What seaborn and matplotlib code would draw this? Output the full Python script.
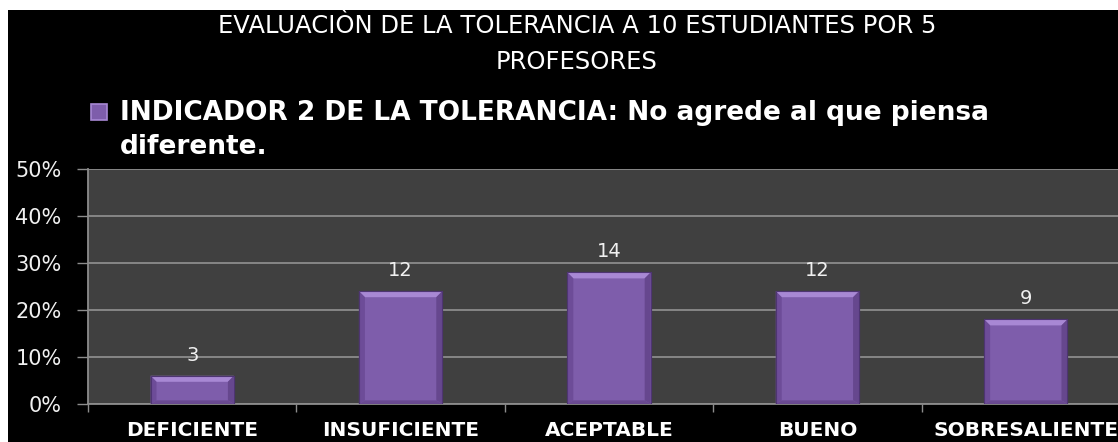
import matplotlib
matplotlib.use("Agg")
import matplotlib.pyplot as plt
from matplotlib.patches import Rectangle, Polygon
from matplotlib.ticker import FixedLocator, PercentFormatter
import numpy as np
import pandas as pd
import seaborn as sns

# Tolerance indicator 2: ratings given by 5 teachers to 10 students (50 ratings)
categories = ["DEFICIENTE", "INSUFICIENTE", "ACEPTABLE", "BUENO", "SOBRESALIENTE"]
counts = [3, 12, 14, 12, 9]
total_ratings = 50
y_ticks = [0.0, 0.1, 0.2, 0.3, 0.4, 0.5]

title_text = "EVALUACIÒN DE LA TOLERANCIA A 10 ESTUDIANTES POR 5\nPROFESORES"
series_label = "INDICADOR 2 DE LA TOLERANCIA: No agrede al que piensa\ndiferente."

df = pd.DataFrame({
    "categoria": categories,
    "cantidad": counts,
    "porcentaje": [c / total_ratings for c in counts],
})

sns.set_theme(style="dark")
plt.rcParams["font.family"] = ["DejaVu Sans"]

W, H, DPI = 1118, 442, 100
fig = plt.figure(figsize=(W / DPI, H / DPI), dpi=DPI, facecolor="white")

# black slide background, leaving a thin white margin at top and left
fig.patches.append(Rectangle((8 / W, 0), 1, 1 - 10 / H, transform=fig.transFigure,
                             facecolor="black", edgecolor="none", zorder=-10))

left_px, right_px, top_px, bottom_px = 88, 1130, 169, 404
ax = fig.add_axes([left_px / W, (H - bottom_px) / H,
                   (right_px - left_px) / W, (bottom_px - top_px) / H])
ax.set_facecolor("#404040")

BAR = "#7e5dab"
sns.barplot(data=df, x="categoria", y="porcentaje", color=BAR, width=0.40,
            saturation=1, ax=ax, zorder=3, edgecolor="#5b3f82", linewidth=0.8)

ax.set_xlim(-0.5, len(categories) - 0.5)
ax.set_ylim(0, 0.5)
ax.set_xlabel("")
ax.set_ylabel("")

# horizontal gridlines
ax.yaxis.set_major_locator(FixedLocator(y_ticks))
ax.yaxis.set_major_formatter(PercentFormatter(1.0, decimals=0))
ax.grid(axis="y", color="#8c8c8c", linewidth=1.3, zorder=1)
ax.grid(axis="x", visible=False)

for side in ("top", "right"):
    ax.spines[side].set_visible(False)
for side in ("left", "bottom"):
    ax.spines[side].set_visible(True)
    ax.spines[side].set_color("#8c8c8c")
    ax.spines[side].set_linewidth(1.3)

ax.tick_params(axis="y", colors="#8c8c8c", labelcolor="#f0f0f0", labelsize=15,
               length=8, width=1, direction="out", pad=11, left=True)
ax.tick_params(axis="x", which="major", length=0, labelcolor="white",
               labelsize=14.5, pad=12)
ax.set_xticks(range(len(categories)))
ax.set_xticklabels(categories, fontweight="bold")
ax.xaxis.set_minor_locator(FixedLocator(np.arange(-0.5, len(categories), 1.0)))
ax.tick_params(axis="x", which="minor", length=6, width=1, color="#8c8c8c",
               direction="out", bottom=True)

# bevelled look on each bar
fig.canvas.draw()
inv = ax.transData.inverted()
p0 = inv.transform((0, 0))
p1 = inv.transform((6, 6))
bx, by = p1[0] - p0[0], p1[1] - p0[1]
for patch in ax.patches:
    x0, w, h = patch.get_x(), patch.get_width(), patch.get_height()
    x1 = x0 + w
    polys = [
        ([(x0, h), (x1, h), (x1 - bx, h - by), (x0 + bx, h - by)], "#a888d4"),
        ([(x0, 0), (x0 + bx, by * 0.6), (x0 + bx, h - by), (x0, h)], "#6d4c98"),
        ([(x1, 0), (x1, h), (x1 - bx, h - by), (x1 - bx, by * 0.6)], "#66478e"),
        ([(x0, 0), (x1, 0), (x1 - bx, by * 0.6), (x0 + bx, by * 0.6)], "#6a4a92"),
    ]
    for pts, col in polys:
        ax.add_patch(Polygon(pts, closed=True, facecolor=col, edgecolor="none",
                             zorder=4))
    ax.add_patch(Rectangle((x0, 0), w, h, facecolor="none", edgecolor="#4e3572",
                           linewidth=0.8, zorder=5))

# value labels above the bars
for i, (c, p) in enumerate(zip(df["cantidad"], df["porcentaje"])):
    ax.annotate(str(c), (i, p), xytext=(0, 8), textcoords="offset points",
                ha="center", va="bottom", color="#f0f0f0", fontsize=14, zorder=6)

# title
fig.text(577 / W, 1 - 14 / H, title_text, ha="center", va="top",
         color="white", fontsize=17.5, linespacing=1.62)

# series legend
fig.patches.append(Rectangle((91 / W, 1 - 120 / H), 16 / W, 16 / H,
                             transform=fig.transFigure, facecolor=BAR,
                             edgecolor="#a888d4", linewidth=1.2))
fig.text(120 / W, 1 - 100 / H, series_label, ha="left", va="top",
         color="white", fontsize=19, fontweight="bold", linespacing=1.38)

fig.savefig("out.png", dpi=DPI, facecolor=fig.get_facecolor())
